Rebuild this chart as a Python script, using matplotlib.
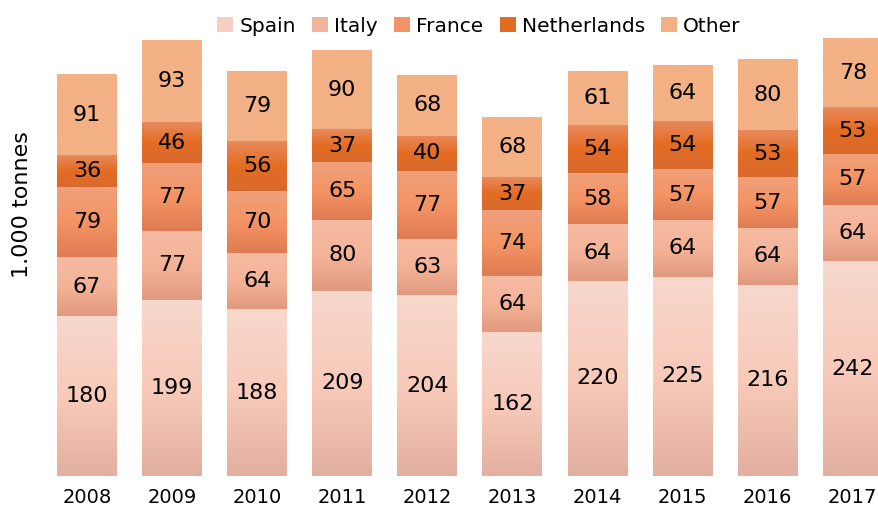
import numpy as np
import matplotlib
matplotlib.use('Agg')
import matplotlib.pyplot as plt
from matplotlib.colors import LinearSegmentedColormap
from matplotlib.patches import Patch

# data (1.000 tonnes)
years = ['2008', '2009', '2010', '2011', '2012', '2013', '2014', '2015', '2016', '2017']
spain = [180, 199, 188, 209, 204, 162, 220, 225, 216, 242]
italy = [67, 77, 64, 80, 63, 64, 64, 64, 64, 64]
france = [79, 77, 70, 65, 77, 74, 58, 57, 57, 57]
netherlands = [36, 46, 56, 37, 40, 37, 54, 54, 53, 53]
other = [91, 93, 79, 90, 68, 68, 61, 64, 80, 78]

series = ['Spain', 'Italy', 'France', 'Netherlands', 'Other']
values = [spain, italy, france, netherlands, other]

# gradient stops per series: top, middle, bottom
grad_colors = {
    'Spain': ['#f7d8cd', '#f8cab9', '#e2afa0'],
    'Italy': ['#f6bba3', '#f4b398', '#e1997f'],
    'France': ['#efa07c', '#f49464', '#df7b53'],
    'Netherlands': ['#e88a5e', '#e46c22', '#d96a2e'],
    'Other': ['#f3b185', '#f3b185', '#f3b185'],
}
legend_colors = ['#f7d0c3', '#f2b39c', '#f29366', '#e06d23', '#f3b084']

fig = plt.figure(figsize=(8.79, 5.11), dpi=100)
ax = fig.add_axes([0.0506, 0.0685, 0.968, 0.902])

x = np.arange(len(years))
bottom = np.zeros(len(years))
grad = np.linspace(0, 1, 512).reshape(-1, 1)

for name, vals in zip(series, values):
    bars = ax.bar(x, vals, width=0.705, bottom=bottom, color=grad_colors[name][1], linewidth=0)
    cmap = LinearSegmentedColormap.from_list(name, grad_colors[name])
    for p in bars.patches:
        x0, y0 = p.get_x(), p.get_y()
        im = ax.imshow(grad, cmap=cmap, aspect='auto', origin='upper', interpolation='bilinear',
                       extent=[x0, x0 + p.get_width(), y0, y0 + p.get_height()], zorder=2)
        im.set_clip_path(p)
    ax.bar_label(bars, labels=[str(v) for v in vals], label_type='center',
                 fontsize=16, color='black', zorder=3)
    bottom += np.array(vals)

ax.set_xlim(-0.5, 9.5)
ax.set_ylim(0, 520)
ax.set_xticks(x)
ax.set_xticklabels(years, fontsize=14)
ax.tick_params(axis='x', length=0, pad=9)
ax.set_yticks([])
for s in ax.spines.values():
    s.set_visible(False)

fig.text(0.025, 0.599, '1.000 tonnes', rotation=90, fontsize=16, ha='center', va='center')

handles = [Patch(facecolor=c, edgecolor='none') for c in legend_colors]
fig.legend(handles, series, loc='upper center', bbox_to_anchor=(0.545, 1.003), ncol=5,
           frameon=False, fontsize=14.5, handlelength=0.8, handleheight=0.8,
           handletextpad=0.3, columnspacing=0.8)

fig.savefig('out.png', dpi=100)
